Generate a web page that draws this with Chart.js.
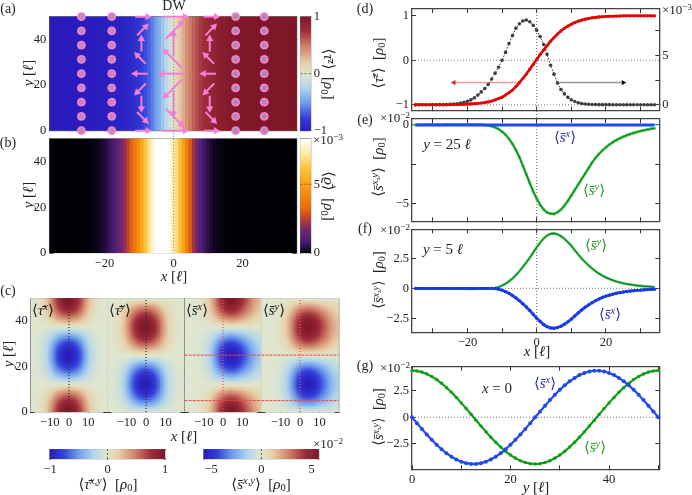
<!DOCTYPE html>
<html><head><meta charset="utf-8">
<style>
html,body{margin:0;padding:0;background:#fff;width:692px;height:495px;overflow:hidden}
#fig{position:relative;width:692px;height:495px}
canvas{position:absolute;left:0;top:0}
.t{position:absolute;white-space:nowrap;font-family:"Liberation Serif","DejaVu Serif",serif;color:#222;line-height:1;transform-origin:center}
.t sup{font-size:70%;vertical-align:.42em;line-height:0}
.t sub{font-size:70%;vertical-align:-.2em;line-height:0}
</style>
<script src="https://cdn.jsdelivr.net/npm/chart.js@4"></script>
</head><body><div id="fig"></div>
<script>
// ---------- values ----------
const xGrid=[-36,-35,-34,-33,-32,-31,-30,-29,-28,-27,-26,-25,-24,-23,-22,-21,-20,-19,-18,-17,-16,-15,-14,-13,-12,-11,-10,-9,-8,-7,-6,-5,-4,-3,-2,-1,0,1,2,3,4,5,6,7,8,9,10,11,12,13,14,15,16,17,18,19,20,21,22,23,24,25,26,27,28,29,30,31,32,33,34,35,36];
const tauZ=[-1,-1,-1,-1,-1,-1,-1,-1,-1,-1,-1,-.995,-.995,-.995,-.99,-.99,-.985,-.98,-.975,-.97,-.96,-.95,-.935,-.915,-.89,-.86,-.83,-.78,-.73,-.67,-.59,-.5,-.41,-.31,-.2,-.09,.02,.13,.23,.33,.43,.51,.59,.66,.72,.77,.81,.85,.88,.905,.925,.94,.955,.965,.975,.98,.985,.99,.99,.995,.995,1,1,1,1,1,1,1,1,1,1,1,1];
const densP=[0,0,0,0,0,0,0,0,.01,.01,.02,.04,.07,.11,.17,.25,.35,.5,.7,.98,1.3,1.65,2.05,2.6,3.2,3.8,4.5,5.3,6.2,7,7.75,8.2,8.48,8.57,8.4,8.05,7.55,6.9,6.1,5.1,4,3.1,2.2,1.55,1.1,.75,.5,.33,.2,.13,.08,.05,.03,.02,.01,.01,.01,.01,0,0,0,0,0,0,0,0,0,0,0,0,0,0,0];
const sy25=[0,.01,.01,.01,.02,.02,.02,.01,.01,.01,.02,.02,.02,.02,.02,.02,.02,.02,.02,.01,.01,0,-.03,-.08,-.16,-.26,-.42,-.62,-.88,-1.2,-1.6,-2.05,-2.6,-3.15,-3.7,-4.25,-4.7,-5.1,-5.4,-5.58,-5.66,-5.68,-5.58,-5.4,-5.15,-4.85,-4.5,-4.15,-3.8,-3.45,-3.1,-2.75,-2.4,-2.1,-1.85,-1.62,-1.42,-1.25,-1.1,-.97,-.85,-.75,-.66,-.58,-.51,-.45,-.39,-.34,-.29,-.25,-.21,-.18,-.15];
const sx25=[0,0,0,0,0,0,0,0,0,0,0,0,0,0,0,0,0,0,0,0,0,0,0,0,0,0,0,0,0,0,0,0,0,0,0,0,0,0,0,0,0,0,0,0,0,0,0,0,0,0,0,0,0,0,0,0,0,0,0,0,0,0,0,0,0,0,0,0,0,0,0,0,0];
const sy5=[0,-.02,-.02,-.02,-.03,-.03,-.03,-.04,-.04,-.04,-.04,-.04,-.04,-.04,-.04,-.04,-.05,-.05,-.05,-.04,-.03,-.02,-.01,0,.03,.1,.22,.38,.58,.82,1.1,1.42,1.78,2.15,2.55,2.98,3.42,3.8,4.15,4.4,4.55,4.58,4.5,4.35,4.13,3.85,3.53,3.18,2.82,2.48,2.18,1.9,1.65,1.42,1.22,1.05,.9,.78,.67,.57,.49,.42,.36,.31,.27,.23,.2,.17,.15,.13,.11,.09,.08];
const sx5=[0,-.01,-.01,-.01,-.01,-.01,-.01,-.01,-.01,-.01,-.01,-.01,-.01,-.01,-.01,-.01,-.01,-.01,-.01,-.01,-.01,-.01,-.01,-.01,-.02,-.07,-.16,-.28,-.42,-.6,-.8,-1.03,-1.29,-1.56,-1.85,-2.17,-2.49,-2.76,-3.02,-3.2,-3.31,-3.33,-3.27,-3.16,-3,-2.8,-2.57,-2.31,-2.05,-1.8,-1.58,-1.38,-1.2,-1.03,-.89,-.76,-.65,-.57,-.49,-.41,-.36,-.31,-.26,-.23,-.2,-.17,-.15,-.12,-.11,-.09,-.08,-.07,-.06];
const yGrid=[0,1,2,3,4,5,6,7,8,9,10,11,12,13,14,15,16,17,18,19,20,21,22,23,24,25,26,27,28,29,30,31,32,33,34,35,36,37,38,39,40,41,42,43,44,45,46,47,48,49,50];
const sxCut=[0,-.55,-1.09,-1.62,-2.12,-2.59,-3.01,-3.39,-3.71,-3.98,-4.18,-4.32,-4.39,-4.39,-4.32,-4.18,-3.98,-3.71,-3.39,-3.01,-2.59,-2.12,-1.62,-1.09,-.55,0,.55,1.09,1.62,2.12,2.59,3.01,3.39,3.71,3.98,4.18,4.32,4.39,4.39,4.32,4.18,3.98,3.71,3.39,3.01,2.59,2.12,1.62,1.09,.55,0];
const syCut=[4.4,4.37,4.26,4.09,3.85,3.56,3.21,2.8,2.36,1.87,1.36,.82,.28,-.28,-.82,-1.36,-1.87,-2.36,-2.8,-3.21,-3.56,-3.85,-4.09,-4.26,-4.37,-4.4,-4.37,-4.26,-4.09,-3.85,-3.56,-3.21,-2.8,-2.36,-1.87,-1.36,-.82,-.28,.28,.82,1.36,1.87,2.36,2.8,3.21,3.56,3.85,4.09,4.26,4.37,4.4];
// x profile of the orbital maps in (c), read across the panels at x=-20...20
const tauProfile=[0,.01,.015,.025,.04,.06,.09,.13,.18,.25,.33,.42,.52,.62,.71,.79,.86,.92,.96,.99,1,.99,.96,.92,.86,.79,.71,.62,.52,.42,.33,.25,.18,.13,.09,.06,.04,.025,.015,.01,0];
// spin texture in (a)
const texColsCirclesL=[-26.7,-17.9];
const texColsCirclesR=[18,26.3];
const texColsArrows=[-9.3,0,10.5];
const texArrowHalfX=[1.8,3.3,1.8];
const texArrowHalfY=[2.8,5,2.8];
const texRows=[50,43.75,37.5,31.25,25,18.75,12.5,6.25,0];
const texU=[1,.7,0,-.7,-1,-.7,0,.7,1];
const texV=[0,.7,1,.7,0,-.7,-1,-.7,0];
const texRot=[90,45,0,-45,-90,-135,180,135,90];
// tick lists
const ticksAx=[-30,-20,-10,0,10,20,30], ticksAxLab=[-20,0,20];
const ticksAy=[0,20,40], ticksCx=[-10,0,10], ticksDy=[-1,0,1], ticksD2=[0,2.5,5,7.5];
const ticksEy=[-5,-2.5,0], ticksFy=[-2.5,0,2.5], ticksGx=[0,10,20,30,40,50], ticksGy=[-2.5,0,2.5];
// colour maps
const divStops=[[0,'#2a1bbd'],[.12,'#3340d8'],[.25,'#6f9ceb'],[.38,'#b0d4ec'],[.5,'#dfe6cf'],[.6,'#e8cfa8'],[.75,'#cf7f68'],[.88,'#a02f3c'],[1,'#7e1728']];
const fireStops=[[0,'#000004'],[.03,'#150826'],[.08,'#3d1660'],[.14,'#5a2078'],[.22,'#7a2a68'],[.3,'#b84030'],[.4,'#ea6a10'],[.6,'#f8a012'],[.75,'#fdc63a'],[.88,'#feeaa8'],[1,'#ffffff']];

// ---------- helpers ----------
const FONT='"Liberation Serif","DejaVu Serif",serif';
const fig=document.getElementById('fig');
function hex(c){return [1,3,5].map(i=>parseInt(c.substr(i,2),16));}
function cmap(st,t){t=Math.max(0,Math.min(1,t));for(let i=1;i<st.length;i++){if(t<=st[i][0]){const a=hex(st[i-1][1]),b=hex(st[i][1]),f=(t-st[i-1][0])/(st[i][0]-st[i-1][0]);return `rgb(${a.map((v,k)=>Math.round(v+(b[k]-v)*f)).join(',')})`;}}return st[st.length-1][1];}
const fmt=v=>String(v).replace('-','−');
function axis(id,pos,min,max,ticks,labels,frame,tlen){
  const ax=(pos==='top'||pos==='bottom')?'x':'y';
  return {type:'linear',axis:ax,position:pos,min,max,offset:false,
    grid:{display:true,offset:false,drawOnChartArea:false,drawTicks:true,tickLength:-tlen,color:'#333',lineWidth:1},
    border:{display:true,color:frame,width:1.3},
    ticks:{display:!!labels,autoSkip:false,maxRotation:0,minRotation:0,padding:tlen+3,color:'#222',font:{family:FONT,size:12.5},
      callback:v=>(labels&&labels.includes(v))?fmt(v):''},
    afterBuildTicks:s=>{s.ticks=ticks.map(v=>({value:v}));},
    afterFit:s=>{if(ax==='x')s.height=0;else s.width=0;s.paddingLeft=s.paddingRight=s.paddingTop=s.paddingBottom=0;s._computeLabelArea=()=>undefined;}};
}
function panel(p){
  const c=document.createElement('canvas');c.width=692;c.height=495;c.style.width='692px';c.style.height='495px';fig.appendChild(c);
  const [l,t,r,b]=p.box,fr=p.frame||'#444',tl=p.tl===undefined?4:p.tl;
  const y2r=p.y2r||p.yr;
  new Chart(c,{type:'scatter',data:{datasets:p.datasets},options:{
    responsive:false,animation:false,events:[],devicePixelRatio:1,
    layout:{padding:{left:l,top:t,right:692-r,bottom:495-b}},
    plugins:{legend:{display:false},tooltip:{enabled:false},title:{display:false}},
    scales:{
      x:axis('x','bottom',p.xr[0],p.xr[1],p.xt||[],p.xl,fr,tl),
      x2:axis('x2','top',p.xr[0],p.xr[1],p.xt||[],null,fr,tl),
      y:axis('y','left',p.yr[0],p.yr[1],p.yt||[],p.yl,fr,tl),
      y2:axis('y2','right',y2r[0],y2r[1],p.y2t||p.yt||[],p.y2l,fr,tl)
    }}});
}
function bars(cells,colors){return {type:'bar',data:cells,backgroundColor:colors,borderWidth:0,grouped:false,barPercentage:1,categoryPercentage:1,inflateAmount:.6,order:5};}
function zip(xs,ys,lo,hi){const o=[];xs.forEach((x,i)=>{if(lo===undefined||(x>=lo&&x<=hi))o.push({x,y:ys[i]});});return o;}
function line(pts,color,w,dash,extra){return Object.assign({type:'line',data:pts,borderColor:color,borderWidth:w,borderDash:dash||[],pointRadius:0,tension:0,clip:false,order:1},extra||{});}
function marks(pts,color,r,extra){return Object.assign({type:'scatter',data:pts,backgroundColor:color,borderColor:color,borderWidth:0,pointRadius:r,order:2},extra||{});}
function label(html,x,y,o){o=o||{};const d=document.createElement('div');d.className='t';d.innerHTML=html;d.style.fontSize=(o.size||12)+'px';if(o.color)d.style.color=o.color;d.style.left=x+'px';d.style.top=y+'px';d.style.transform=`translate(-50%,-50%)${o.rot?` rotate(${o.rot}deg)`:''}`;fig.appendChild(d);}
function ramp(a,b,n){const o=[];for(let i=0;i<n;i++)o.push(a+(b-a)*(i+.5)/n);return o;}

const DOT=[1,2];
// ---------- (b) ----------
panel({box:[49.3,138.7,296.7,253],xr:[-36,35.7],yr:[0,50],xt:ticksAx,xl:ticksAxLab,yt:ticksAy,yl:ticksAy,frame:'#999',
 datasets:[bars(xGrid.map(x=>({x,y:[0,50]})),densP.map(v=>cmap(fireStops,v/8.32)))]});
// ---------- (a) ----------
const texDs=[];
const ptsL=[],ptsR=[];
texColsCirclesL.forEach(x=>texRows.forEach(y=>ptsL.push({x,y})));
texColsCirclesR.forEach(x=>texRows.forEach(y=>ptsR.push({x,y})));
texDs.push(marks(ptsL.concat(ptsR),'#ee80d4',4.4,{clip:false,order:0}));
texDs.push(marks(ptsL.concat(ptsR),'#a08ea2',2.4,{clip:false,order:-1}));
texDs.push(marks(ptsL,'#ee80d4',2.6,{clip:false,order:-2,pointStyle:'crossRot',borderWidth:1}));
texColsArrows.forEach((cx,c)=>texRows.forEach((ry,j)=>{
  texDs.push(line([{x:cx-texU[j]*texArrowHalfX[c],y:ry-texV[j]*texArrowHalfY[c]},{x:cx+texU[j]*texArrowHalfX[c],y:ry+texV[j]*texArrowHalfY[c]}],'#f57fd8',2,[],
   {order:-3,pointRadius:[0,4.2],pointStyle:'triangle',pointRotation:texRot[j],pointBackgroundColor:'#f57fd8',pointBorderWidth:0}));
}));
texDs.push(line([{x:0,y:53},{x:0,y:-53.5}],'#8a8a8a',1.3,DOT,{order:-4}));
panel({box:[49.3,16.7,296.7,130.7],xr:[-36,35.7],yr:[0,50],xt:ticksAx,yt:ticksAy,yl:ticksAy,frame:'#777',
 datasets:[bars(xGrid.map(x=>({x,y:[0,50]})),tauZ.map(v=>cmap(divStops,(v+1)/2)))].concat(texDs)});
// colourbars (a)(b)
const levA=ramp(-1,1,114),levB=ramp(0,8.32,114);
panel({box:[300.5,16.7,310.7,130.7],xr:[-.5,.5],yr:[-1,1],yt:[-1,0,1],y2l:[-1,0,1],frame:'#888',tl:0,
 datasets:[bars(levA.map(v=>({x:0,y:[v-.012,v+.012]})),levA.map(v=>cmap(divStops,(v+1)/2))),line([{x:-.5,y:0},{x:.5,y:0}],'#666',1,[2,2])]});
panel({box:[300.5,138.7,310.7,253],xr:[-.5,.5],yr:[0,8.32],yt:[0,5],y2l:[0,5],frame:'#888',tl:0,
 datasets:[bars(levB.map(v=>({x:0,y:[v-.05,v+.05]})),levB.map(v=>cmap(fireStops,v/8.32))),line([{x:-.5,y:5},{x:.5,y:5}],'#a55a10',1,[2,2])]});
// ---------- (c) ----------
const xC=xGrid.filter(x=>x>=-20&&x<=20);
const sProfile=xC.map(x=>-sy25[xGrid.indexOf(x)]);
const yCos=syCut.map(v=>v/4.4),ySin=sxCut.map(v=>v/4.4);
function heat(prof,yp,norm){const cells=[],cols=[];xC.forEach((x,i)=>yGrid.forEach((y,j)=>{cells.push({x,y:[y-.5,y+.5]});cols.push(cmap(divStops,(prof[i]*yp[j]/norm+1)/2));}));return bars(cells,cols);}
const cBoxes=[[30.7,107.3],[107.3,184.7],[184.7,261.3],[261.3,338.7]];
const cMaps=[[tauProfile,yCos,1],[tauProfile,ySin,1],[sProfile,yCos,5.7],[sProfile,ySin,5.7]];
const cCuts=[[],[],[5,25],[5,25]];
cBoxes.forEach((bx,i)=>{
  const ds=[heat(...cMaps[i])];
  const red=i>=2;
  ds.push(line([{x:0,y:0},{x:0,y:50}],red?'#f05050':'#333',1.2,DOT,{order:-1}));
  cCuts[i].forEach(v=>ds.push(line([{x:-19.8,y:v},{x:19.8,y:v}],'#e84848',1,[3,1],{order:-1})));
  panel({box:[bx[0],298.3,bx[1],412],xr:[-19.8,19.8],yr:[0,50],xt:ticksCx,xl:ticksCx,yt:ticksAy,yl:i===0?ticksAy:null,frame:'#444',datasets:ds});
});
// colourbars (c)
const levC=ramp(-1,1,115),levS=ramp(-5.7,5.7,115);
panel({box:[50,449.3,165,459],xr:[-1,1],yr:[0,1],xt:[-1,0,1],xl:[-1,0,1],frame:'#777',tl:0,
 datasets:[bars(levC.map(v=>({x:v,y:[0,1]})),levC.map(v=>cmap(divStops,(v+1)/2))),line([{x:0,y:0},{x:0,y:1}],'#555',1,[2,2])]});
panel({box:[204,449.3,318.7,459],xr:[-5.7,5.7],yr:[0,1],xt:[-5,0,5],xl:[-5,0,5],frame:'#777',tl:0,
 datasets:[bars(levS.map(v=>({x:v,y:[0,1]})),levS.map(v=>cmap(divStops,(v+5.7)/11.4))),
   line([{x:0,y:0},{x:0,y:1}],'#555',1,[2,2]),line([{x:5,y:0},{x:5,y:1}],'#555',1,[2,2])]});
// ---------- (d) ----------
const xr=[-36,35.4];
panel({box:[412,9,659.3,110.7],xr,yr:[-1.133,1.153],y2r:[-.6,9.69],xt:ticksAx,yt:ticksDy,yl:ticksDy,y2t:ticksD2,y2l:[0,5],datasets:[
 line([{x:-36,y:0},{x:35.4,y:0}],'#777',1,DOT,{order:9}),
 line([{x:-36,y:-1},{x:35.4,y:-1}],'#777',1,DOT,{order:9}),
 line([{x:0,y:1.153},{x:0,y:-6.1}],'#666',1,DOT,{order:9}),
 line([{x:-5.8,y:-.5},{x:-23.9,y:-.5}],'#f89a9a',1.5,[],{order:8,pointRadius:[0,3],pointStyle:'triangle',pointRotation:-90,pointBackgroundColor:'#c03030',pointBorderWidth:0}),
 line([{x:6,y:-.5},{x:25,y:-.5}],'#999',1.5,[],{order:8,pointRadius:[0,3],pointStyle:'triangle',pointRotation:90,pointBackgroundColor:'#111',pointBorderWidth:0}),
 marks(zip(xGrid,densP,-35,34),'#444',1.8,{yAxisID:'y2',order:4,clip:false}),
 line(zip(xGrid,densP,-35,34),'#2a2a2a',1,[1.5,1.5],{yAxisID:'y2',order:3}),
 line(zip(xGrid,tauZ,-35,34),'#e00000',2.6,[],{order:2}),
 marks(zip(xGrid,tauZ,-35,34),'#e80000',1.6,{order:1,clip:false})
]});
// ---------- (e) ----------
panel({box:[412,119,659.3,221.3],xr,yr:[-6.15,.38],xt:ticksAx,yt:ticksEy,yl:[-5,0],y2t:ticksEy,datasets:[
 line([{x:-36,y:0},{x:35.4,y:0}],'#5aa0f0',1,[],{order:9}),
 line(zip(xGrid,sy25,-35,34),'#3cc850',2.6,[],{order:7}),
 marks(zip(xGrid,sy25,-35,34),'#38d048',1.6,{order:6,clip:false}),
 line(zip(xGrid,sy25,-35,34),'#0c5a1c',.9,[],{order:5}),
 line(zip(xGrid,sx25,-35,34),'#2048ee',3,[],{order:4})
]});
// ---------- (f) ----------
panel({box:[412,229.3,659.3,332.3],xr,yr:[-3.67,4.92],xt:ticksAx,xl:ticksAxLab,yt:ticksFy,yl:ticksFy,datasets:[
 line([{x:-36,y:0},{x:35.4,y:0}],'#777',1,DOT,{order:9}),
 line(zip(xGrid,sy5,-35,34),'#3cc850',2.6,[],{order:7}),
 line(zip(xGrid,sy5,-35,34),'#0c5a1c',.9,[],{order:5}),
 line(zip(xGrid,sx5,-35,34),'#2048ee',2.8,[],{order:4}),
 marks(zip(xGrid,sx5,-35,34),'#1838e0',1.7,{order:3,clip:false})
]});
// ---------- (g) ----------
panel({box:[412,366.7,659.3,469.3],xr:[0,50.2],yr:[-4.9,4.77],xt:ticksGx,xl:[0,20,40],yt:ticksGy,yl:ticksGy,datasets:[
 line([{x:0,y:0},{x:50.2,y:0}],'#777',1,DOT,{order:9}),
 line(zip(yGrid,syCut),'#18b020',2.2,[],{order:7}),
 marks(zip(yGrid,syCut),'#18b020',1.8,{order:6,clip:false}),
 line(zip(yGrid,syCut),'#0c6a1c',.7,[],{order:5}),
 line(zip(yGrid,sxCut),'#2048ee',2.2,[],{order:4}),
 marks(zip(yGrid,sxCut),'#2048ee',2,{order:3,clip:false})
]});
// ---------- text ----------
const ell='<i>ℓ</i>',rho='[<i>ρ</i><sub>0</sub>]';
const br=(b,s)=>`⟨<i>${b}</i><sup><i>${s}</i></sup>⟩`;
const TAU='τ̄',ESS='s̄';
[['(a)',8,9],['(b)',8,143],['(c)',8,291],['(d)',365,9],['(e)',365,120],['(f)',365,229],['(g)',365,366]].forEach(a=>label(a[0],a[1],a[2],{size:14}));
label('DW',174,6,{size:14});
const yl=`<i>y</i> [${ell}]`,xl=`<i>x</i> [${ell}]`;
label(yl,28,73,{rot:-90,size:15});label(yl,28,195,{rot:-90,size:15});label(yl,8,354,{rot:-90,size:15});
label(xl,174,276,{size:15});label(xl,184,436,{size:15});label(xl,537,351,{size:15});label(`<i>y</i> [${ell}]`,536,487,{size:15});
label(`${br(TAU,'z')}&nbsp; ${rho}`,328,74,{rot:90,size:15});
label(`⟨<i>ϱ̄</i>⟩&nbsp; ${rho}`,328,196,{rot:90,size:15});
label(`×10<sup>−3</sup>`,328,139,{size:13});
label(`×10<sup>−3</sup>`,677,9,{size:13});
label(`×10<sup>−2</sup>`,395,117,{size:13});label(`×10<sup>−2</sup>`,395,229,{size:13});label(`×10<sup>−2</sup>`,395,367,{size:13});
label(`×10<sup>−2</sup>`,328,443,{size:13});
[[TAU,'x',43],[TAU,'y',120],[ESS,'x',197],[ESS,'y',274]].forEach(a=>label(br(a[0],a[1]),a[2],310,{size:15}));
label(`${br(TAU,'x,y')}&nbsp; ${rho}`,108,484,{size:15});
label(`${br(ESS,'x,y')}&nbsp; ${rho}`,261,484,{size:15});
label(`${br(TAU,'z')}&nbsp; ${rho}`,378,63,{rot:-90,size:15});
label(`${br(ESS,'x,y')}&nbsp; ${rho}`,378,167,{rot:-90,size:15});
label(`${br(ESS,'x,y')}&nbsp; ${rho}`,378,280,{rot:-90,size:14.5});
label(`${br(ESS,'x,y')}&nbsp; ${rho}`,378,417,{rot:-90,size:14.5});
const BL='#3030b0',GR='#2a9a2a';
label(br(ESS,'x'),565,137,{size:15,color:BL});label(br(ESS,'y'),594,190,{size:15,color:GR});
label(`<i>y</i> = 25 ${ell}`,447,144,{size:15});
label(`<i>y</i> = 5 ${ell}`,443,249,{size:15});
label(br(ESS,'y'),596,245,{size:15,color:GR});label(br(ESS,'x'),610,314,{size:15,color:BL});
label(`<i>x</i> = 0`,497,388,{size:15});
label(br(ESS,'x'),545,383,{size:15,color:BL});label(br(ESS,'y'),595,447,{size:15,color:GR});
</script></body></html>
